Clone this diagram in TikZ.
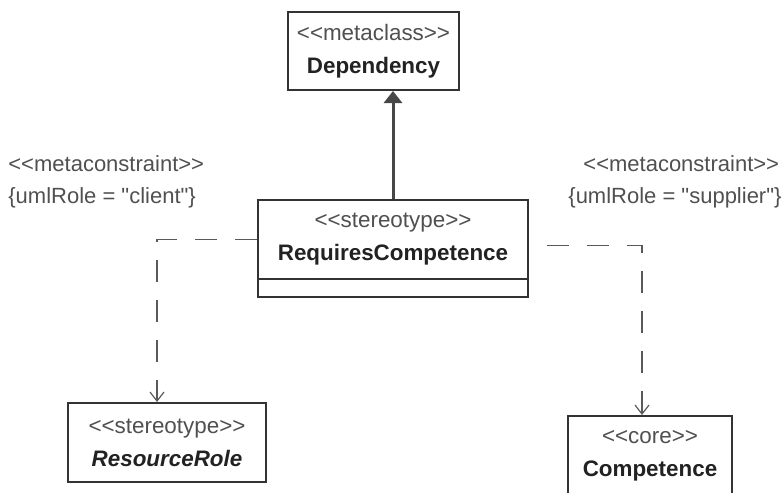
\documentclass[tikz,border=0pt]{standalone}
\usepackage{fontspec}
\usepackage{tikz}
\usetikzlibrary{arrows.meta, positioning}
\newfontfamily\umlfont{Liberation Sans}
\definecolor{umlline}{HTML}{333333}
\definecolor{umltext}{HTML}{222222}
\definecolor{umlgray}{HTML}{505050}
\definecolor{dashgray}{HTML}{5A5A5A}
\newcommand{\stereo}[1]{\textcolor{umlgray}{#1}}

\begin{document}
\begin{tikzpicture}[x=0.5pt, y=-0.5pt,
  umlbox/.style={rectangle, draw=umlline, line width=1pt, fill=white, align=center,
    font=\umlfont\fontsize{11.2}{16.5}\selectfont, text=umltext, inner sep=2pt,
    minimum height=39.5pt},
  compart/.style={rectangle, draw=umlline, line width=1pt, fill=white, minimum height=9pt, inner sep=0pt},
  gen/.style={-{Triangle[length=6pt, width=9pt]}, line width=1.5pt, draw=umlline!90, fill=umlline!90},
  dashdep/.style={-{Straight Barb[length=4.5pt, width=7pt]}, line width=0.6pt, draw=dashgray,
    dash pattern=on 11pt off 9pt},
  lbl/.style={font=\umlfont\fontsize{11}{16}\selectfont, text=umlgray, align=left, inner sep=0pt}]

  \useasboundingbox (0,0) rectangle (783,493);

  \node[umlbox, minimum width=85.5pt, minimum height=39pt] (dependency) at (373.5,51)
    {\stereo{<<metaclass>>}\\\textbf{Dependency}};
  \node[umlbox, minimum width=135pt] (reqcomp) at (393,239.5)
    {\stereo{<<stereotype>>}\\\textbf{RequiresCompetence}};
  \node[compart, minimum width=135pt, below=-1pt of reqcomp] (reqcompattr) {};
  \node[umlbox, minimum width=99pt] (resrole) at (167,442.5)
    {\stereo{<<stereotype>>}\\\textbf{\textit{ResourceRole}}};
  \node[umlbox, minimum width=82pt] (competence) at (650,455.5)
    {\stereo{<<core>>}\\\textbf{Competence}};

  % metaconstraints
  \node[lbl, anchor=west] (clientlbl) at (8,182) {<<metaconstraint>>\\\{umlRole = "client"\}};
  \node[lbl, anchor=west] (supplierlbl) at (568,182) {\hspace*{7.5pt}<<metaconstraint>>\\\{umlRole = "supplier"\}};

  \draw[gen] (reqcomp.north) -- (reqcomp.north |- dependency.south);
  \draw[dashdep] (reqcomp.west) -| ([xshift=-5pt]resrole.north);
  \draw[dashdep, dash phase=11pt] ([yshift=-3pt]reqcomp.east) -| ([xshift=-4pt]competence.north);
\end{tikzpicture}
\end{document}
